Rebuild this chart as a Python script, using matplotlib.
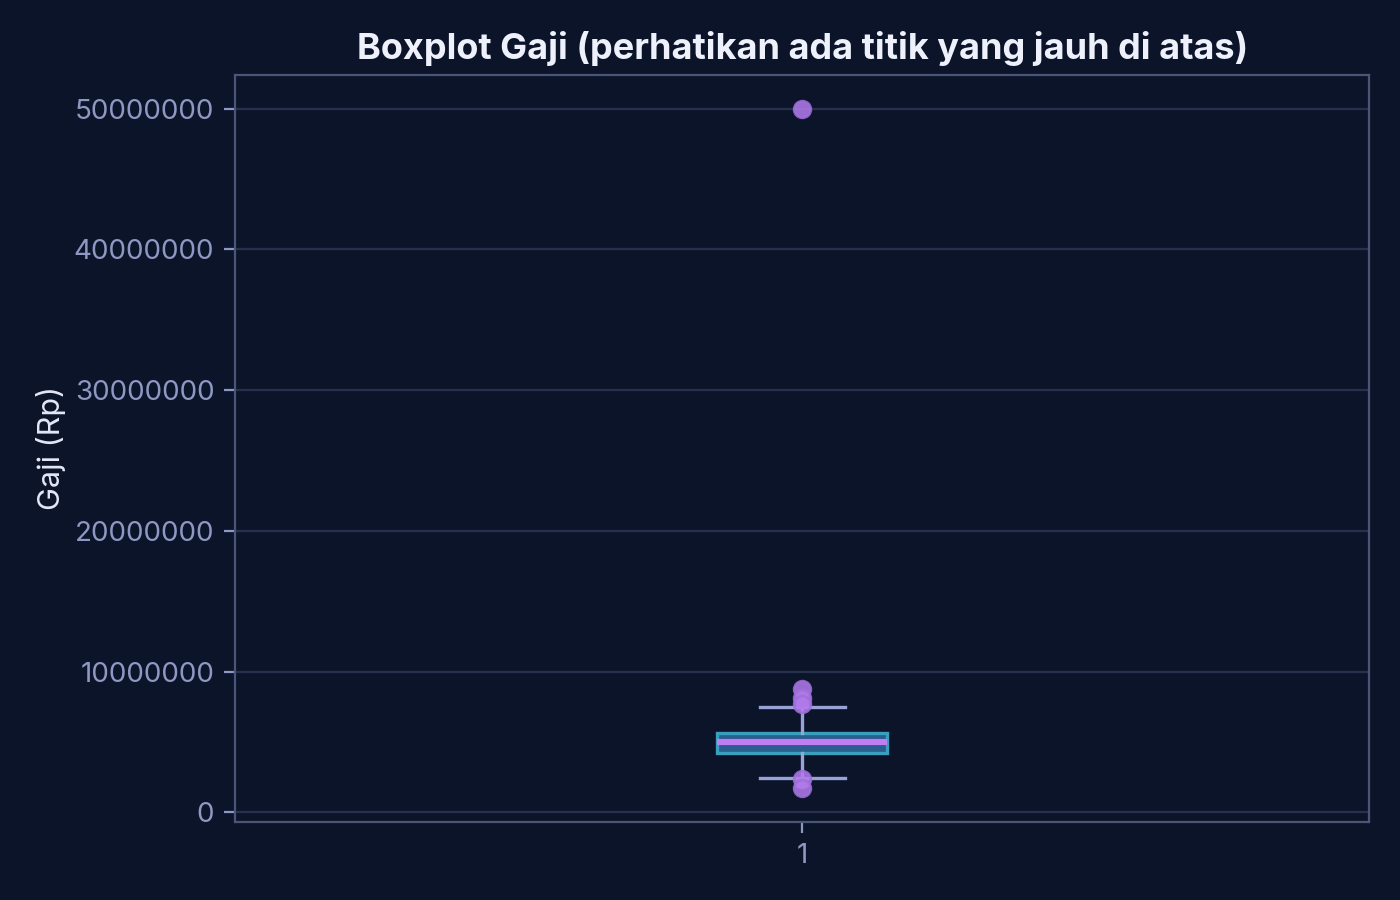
import matplotlib
matplotlib.use("Agg")
import matplotlib.pyplot as plt

plt.rcParams['font.family'] = ['Inter', 'DejaVu Sans']

# statistik boxplot gaji (Rp)
q1 = 4230000
median = 4990000
q3 = 5660000
whisker_low = 2460000
whisker_high = 7500000
fliers = [8800000, 8150000, 7670000, 2340000, 1750000, 50000000]
labels = ["1"]

bg = "#0c1429"
stats = [dict(label=labels[0], med=median, q1=q1, q3=q3,
              whislo=whisker_low, whishi=whisker_high, fliers=fliers)]

fig, ax = plt.subplots(figsize=(7, 4.5), dpi=200)
fig.patch.set_facecolor(bg)
ax.set_facecolor(bg)

ax.bxp(stats, positions=[1], widths=0.15, patch_artist=True,
       boxprops=dict(facecolor="#2a5e8e", edgecolor="#3a9ebf", linewidth=1.2),
       medianprops=dict(color="#c07ef5", linewidth=2.2),
       whiskerprops=dict(color="#9aa3d6", linewidth=1.2),
       capprops=dict(color="#9aa3d6", linewidth=1.2),
       flierprops=dict(marker="o", markerfacecolor="#b47cee", markeredgecolor="#a070dc",
                       markersize=6, alpha=0.85))

ax.set_title("Boxplot Gaji (perhatikan ada titik yang jauh di atas)",
             color="#eef1fc", fontsize=13, fontweight="bold", pad=5.5)
ax.set_ylabel("Gaji (Rp)", color="#e3e7f7", fontsize=11, labelpad=3)
ax.ticklabel_format(axis="y", style="plain", useOffset=False)
ax.grid(axis="y", color="#27304d", linewidth=0.8)
ax.set_axisbelow(True)
for s in ax.spines.values():
    s.set_color("#4b5578")
    s.set_linewidth(0.8)
ax.tick_params(colors="#8e98c2", labelsize=10, length=4, width=0.8)

fig.subplots_adjust(left=0.168, right=0.978, top=0.917, bottom=0.087)
fig.savefig("out.png", facecolor=bg)
